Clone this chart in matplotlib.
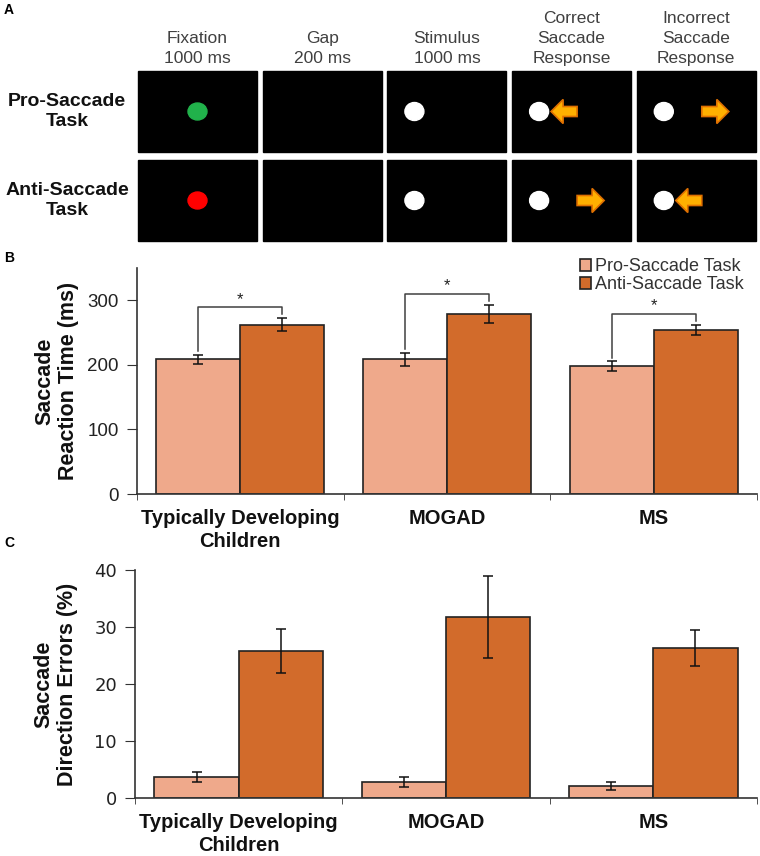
import numpy as np
import matplotlib
matplotlib.use("Agg")
import matplotlib.pyplot as plt
from matplotlib.patches import Rectangle, Ellipse, FancyArrow

plt.rcParams['font.family'] = ['Liberation Sans', 'DejaVu Sans']

# ---- data ----
groups = ["Typically Developing\nChildren", "MOGAD", "MS"]
tasks = ["Pro-Saccade Task", "Anti-Saccade Task"]
task_colors = ["#efa98b", "#d26b2b"]

# saccade reaction time (ms)
rt_pro = [209, 209, 198]
rt_pro_err = [7, 10, 8]
rt_anti = [262, 279, 254]
rt_anti_err = [10, 14, 8.5]

# direction errors (%)
err_pro = [3.7, 2.8, 2.1]
err_pro_err = [0.9, 0.95, 0.65]
err_anti = [25.8, 31.7, 26.3]
err_anti_err = [3.9, 7.2, 3.2]

# panel A schematic
col_titles = ["Fixation\n1000 ms", "Gap\n200 ms", "Stimulus\n1000 ms",
              "Correct\nSaccade\nResponse", "Incorrect\nSaccade\nResponse"]
row_titles = ["Pro-Saccade\nTask", "Anti-Saccade\nTask"]
fix_colors = ["#21b24b", "#ff0000"]
# arrow for correct / incorrect response: "toward" the dot or "away" from it
row_arrows = [["toward", "away"], ["away", "toward"]]

fig = plt.figure(figsize=(7.6, 8.56), dpi=100)

# ---- panel A (pixel coordinates) ----
axa = fig.add_axes([0, 0, 1, 1])
axa.set_xlim(0, 760)
axa.set_ylim(856, 0)
axa.axis("off")

box_x0, box_step, box_w = 138, 124.7, 119
row_y0 = [71, 160]
box_h = 81
arrow_fc, arrow_ec = "#ffb000", "#e07000"

for i, t in enumerate(col_titles):
    cx = box_x0 + i * box_step + box_w / 2
    axa.text(cx, 66, t, ha="center", va="bottom", fontsize=12.5,
             color="#404040", linespacing=1.4)

for r, rt in enumerate(row_titles):
    y0 = row_y0[r]
    cy = y0 + box_h / 2
    axa.text(67, cy, rt, ha="center", va="center", fontsize=14,
             fontweight="bold", color="#111111", linespacing=1.3)
    for i in range(len(col_titles)):
        x0 = box_x0 + i * box_step
        axa.add_patch(Rectangle((x0, y0), box_w, box_h, color="black"))
        if i == 0:
            axa.add_patch(Ellipse((x0 + box_w / 2, cy), 19, 17, color=fix_colors[r]))
        elif i >= 2:
            dx = x0 + 27
            axa.add_patch(Ellipse((dx, cy), 19, 18, color="white"))
            if i >= 3:
                kind = row_arrows[r][i - 3]
                if kind == "toward":
                    tail, tip = dx + 38, dx + 12
                else:
                    tail, tip = dx + 38, dx + 65
                axa.add_patch(FancyArrow(tail, cy, tip - tail, 0, width=10,
                                         head_width=24, head_length=12,
                                         length_includes_head=True,
                                         fc=arrow_fc, ec=arrow_ec, lw=1.2))

for lab, y in zip("ABC", [10, 258, 543]):
    fig.text(4 / 760, 1 - y / 856, lab, fontsize=10, fontweight="bold",
             va="center", ha="left")


def bar_panel(ax, pro, pro_e, anti, anti_e, ylim, yticks, ylabel, tickfont,
              labelpad):
    x = np.arange(len(groups))
    w = 0.406
    ek = dict(ecolor="#111111", elinewidth=1.1, capsize=3.5, capthick=1.1)
    ax.bar(x - w / 2, pro, w, yerr=pro_e, color=task_colors[0],
           edgecolor="#222222", linewidth=1.2, error_kw=ek, label=tasks[0])
    ax.bar(x + w / 2, anti, w, yerr=anti_e, color=task_colors[1],
           edgecolor="#222222", linewidth=1.2, error_kw=ek, label=tasks[1])
    ax.set_xlim(-0.5, 2.5)
    ax.set_ylim(*ylim)
    ax.set_yticks(yticks)
    ax.set_xticks(x)
    ax.set_xticklabels(groups, fontsize=14.5, fontweight="bold",
                       color="#111111", linespacing=1.22)
    ax.tick_params(axis="x", which="major", length=0, pad=11)
    ax.set_xticks([-0.5, 0.5, 1.5, 2.5], minor=True)
    ax.tick_params(axis="x", which="minor", length=4, color="#333333")
    ax.tick_params(axis="y", length=7, color="#333333", labelsize=13.5,
                   labelcolor="#222222", pad=6)
    for lbl in ax.get_yticklabels():
        lbl.set_family(tickfont)
    for s in ["top", "right"]:
        ax.spines[s].set_visible(False)
    for s in ["left", "bottom"]:
        ax.spines[s].set_color("#333333")
        ax.spines[s].set_linewidth(1.2)
    ax.set_ylabel(ylabel, fontsize=15.5, fontweight="bold", color="#111111",
                  linespacing=1.15, labelpad=labelpad)
    ax.set_facecolor("none")
    return x, w


# ---- panel B ----
axb = fig.add_axes([137 / 760, 1 - 494 / 856, 620 / 760, 226 / 856])
x, w = bar_panel(axb, rt_pro, rt_pro_err, rt_anti, rt_anti_err, (0, 350),
                 [0, 100, 200, 300], "Saccade\nReaction Time (ms)",
                 "Liberation Sans", 6)
for i in range(len(groups)):
    top = rt_anti[i] + rt_anti_err[i] + 17
    lo_l = rt_pro[i] + rt_pro_err[i] + 5
    lo_r = rt_anti[i] + rt_anti_err[i] + 6
    axb.plot([x[i] - w / 2, x[i] - w / 2, x[i] + w / 2, x[i] + w / 2],
             [lo_l, top, top, lo_r], color="#404040", lw=1.1)
    axb.text(x[i], top + 1, "*", ha="center", va="bottom", fontsize=12,
             color="#222222")
axb.legend(loc="upper right", bbox_to_anchor=(0.99, 1.075), frameon=False,
           fontsize=13, handlelength=0.6, handleheight=0.6,
           handletextpad=0.2, labelspacing=0.05, borderaxespad=0,
           labelcolor="#333333")

# ---- panel C ----
axc = fig.add_axes([135 / 760, 1 - 798 / 856, 622 / 760, 228 / 856])
bar_panel(axc, err_pro, err_pro_err, err_anti, err_anti_err, (0, 40),
          [0, 10, 20, 30, 40], "Saccade\nDirection Errors (%)", "DejaVu Sans",
          12)
for lbl in axc.get_yticklabels():
    lbl.set_fontsize(13)

fig.savefig("out.png", dpi=100)
